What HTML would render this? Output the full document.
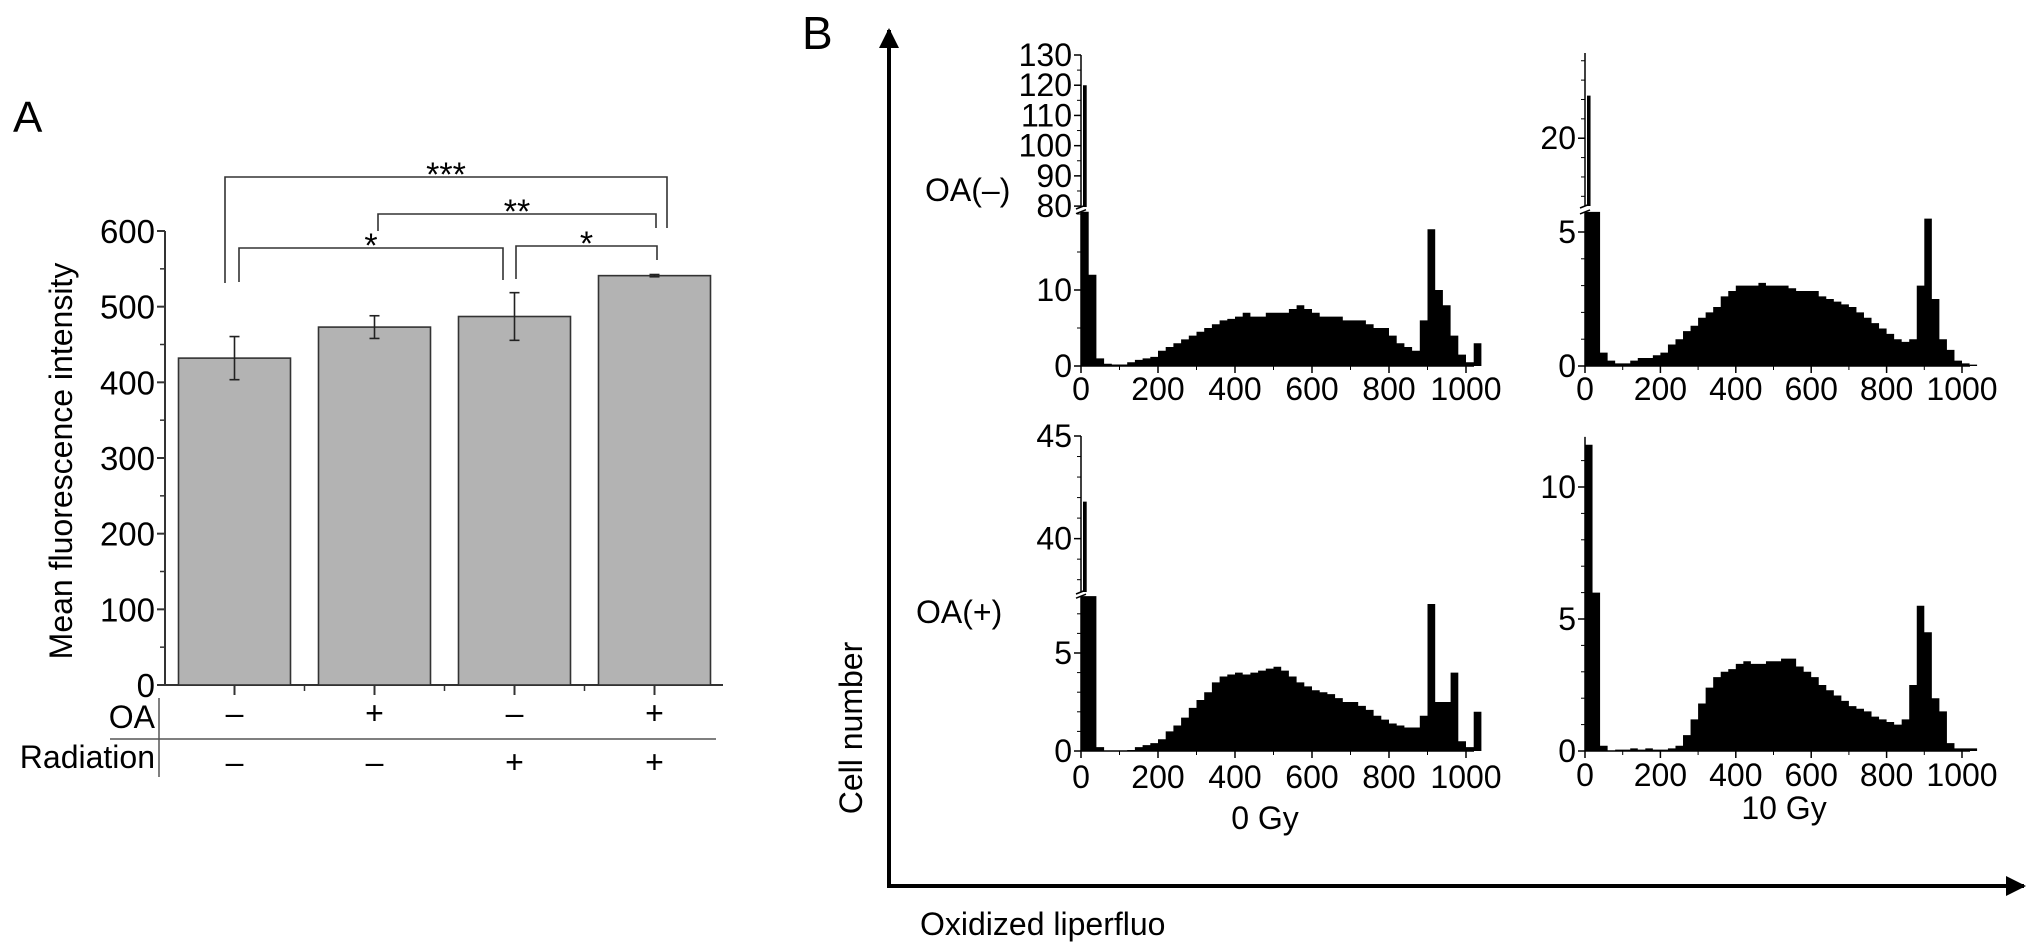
<!DOCTYPE html>
<html><head><meta charset="utf-8">
<style>
html,body{margin:0;padding:0;background:#fff;}
svg{display:block;font-family:"Liberation Sans",Arial,sans-serif;}
</style></head>
<body>
<svg id="fig" width="2032" height="948" viewBox="0 0 2032 948" xmlns="http://www.w3.org/2000/svg">
<defs>
<marker id="arr" viewBox="0 0 10 10" refX="9" refY="5" markerWidth="5" markerHeight="5" orient="auto"><path d="M0,0 L10,5 L0,10 z" fill="#000"/></marker>
</defs>
<g id="panelA">
<text x="13" y="132" font-size="44">A</text>
<text transform="translate(72,461) rotate(-90)" text-anchor="middle" font-size="32">Mean fluorescence intensity</text>
<g id="aAxis"></g>
<g id="aBars"></g>
<g id="aSig" stroke="#333" stroke-width="1.6" fill="none"></g>
<g id="aTable"></g>
</g>
<g id="panelB">
<text x="802" y="49" font-size="46">B</text>
<line x1="889" y1="886" x2="889" y2="30" stroke="#000" stroke-width="4" marker-end="url(#arr)"/>
<line x1="887" y1="886" x2="2024" y2="886" stroke="#000" stroke-width="4" marker-end="url(#arr)"/>
<text transform="translate(862,728) rotate(-90)" text-anchor="middle" font-size="32">Cell number</text>
<text x="920" y="935" font-size="32">Oxidized liperfluo</text>
<text x="925" y="201" font-size="32">OA(–)</text>
<text x="916" y="623" font-size="32">OA(+)</text>
<text x="1265" y="829" text-anchor="middle" font-size="32">0 Gy</text>
<text x="1784" y="819" text-anchor="middle" font-size="32">10 Gy</text>
<g id="hists"></g>
</g>
</svg>
<script>
const NS="http://www.w3.org/2000/svg";
// ---- Panel A data ----
const groups=["g1","g2","g3","g4"];
const oaSigns=["–","+","–","+"];
const radSigns=["–","–","+","+"];
const meanValues=[432,473,487,541];
const errValues=[28.5,15,31.5,1.5];
const yTicksA=[0,100,200,300,400,500,600];
// ---- Panel B data (20-unit bins, 0..1020) ----
const binStarts=[0,20,40,60,80,100,120,140,160,180,200,220,240,260,280,300,320,340,360,380,400,420,440,460,480,500,520,540,560,580,600,620,640,660,680,700,720,740,760,780,800,820,840,860,880,900,920,940,960,980,1000,1020];
const histOAneg0=[120,12,1,0.3,0.2,0.2,0.5,0.8,1,1.2,2,2.5,3,3.5,4,4.5,5,5.5,6,6.2,6.5,7,6.5,6.5,7,7,7,7.5,8,7.5,7,6.5,6.5,6.5,6,6,6,5.5,5,5,4,3,2.5,2,6,18,10,8,4,1.5,0.5,3];
const histOAneg10=[22.2,6,0.5,0.2,0.1,0.1,0.2,0.3,0.3,0.4,0.5,0.8,1,1.3,1.5,1.8,2,2.2,2.6,2.8,3,3,3,3.1,3,3,3,2.9,2.8,2.8,2.8,2.6,2.5,2.4,2.3,2.2,2,1.8,1.6,1.4,1.2,1,0.9,1,3,5.5,2.5,1,0.6,0.2,0.1,0.05];
const histOApos0=[41.8,8,0.2,0,0,0,0.05,0.2,0.3,0.4,0.6,1,1.3,1.7,2.2,2.6,3,3.5,3.8,3.9,4,3.9,4,4.1,4.2,4.3,4.1,3.8,3.5,3.3,3.1,3,2.9,2.7,2.5,2.5,2.3,2.1,1.8,1.6,1.4,1.3,1.2,1.2,1.8,7.5,2.5,2.5,4,0.5,0.2,2];
const histOApos10=[11.6,6,0.2,0,0.05,0.05,0.1,0.05,0.1,0.05,0.05,0.1,0.2,0.6,1.2,1.8,2.4,2.8,3,3.1,3.3,3.4,3.3,3.3,3.4,3.4,3.5,3.5,3.2,3,2.8,2.5,2.3,2.1,1.9,1.7,1.6,1.5,1.3,1.2,1.1,1,1.2,2.5,5.5,4.5,2,1.5,0.3,0.1,0.1,0.1];
const xTicksB=[0,200,400,600,800,1000];

function el(tag,attrs,parent){const e=document.createElementNS(NS,tag);for(const k in attrs)e.setAttribute(k,attrs[k]);parent.appendChild(e);return e;}

// ---- Panel A ----
const A={x0:165,x1:723,y0:685,yTop:231,vmax:600};
const yA=v=>A.y0-(v/A.vmax)*(A.y0-A.yTop);
const step=140, bw=112, firstC=234.5;
const xA=i=>firstC+i*step;
const ax=document.getElementById('aAxis');
let l=el('line',{x1:A.x0,y1:A.yTop,x2:A.x0,y2:A.y0,stroke:'#333','stroke-width':2},ax);


l=el('line',{x1:A.x0,y1:A.y0,x2:A.x1,y2:A.y0,stroke:'#333','stroke-width':2},ax);


yTicksA.forEach(v=>{
  el('line',{x1:A.x0-8,y1:yA(v),x2:A.x0,y2:yA(v),stroke:'#333','stroke-width':2},ax);
  if(v<600) el('line',{x1:A.x0-5,y1:yA(v+50),x2:A.x0,y2:yA(v+50),stroke:'#333','stroke-width':1.5},ax);
  const t=el('text',{x:A.x0-10,y:yA(v)+12,'text-anchor':'end','font-size':33},ax);
  t.textContent=v;
  
  
});
groups.forEach((g,i)=>{
  el('line',{x1:xA(i),y1:A.y0,x2:xA(i),y2:A.y0+10,stroke:'#333','stroke-width':2},ax);
  if(i<3) el('line',{x1:xA(i)+step/2,y1:A.y0,x2:xA(i)+step/2,y2:A.y0+6,stroke:'#333','stroke-width':1.5},ax);
});
const bars=document.getElementById('aBars');
meanValues.forEach((v,i)=>{
  const r=el('rect',{x:xA(i)-bw/2,y:yA(v),width:bw,height:A.y0-yA(v),fill:'#b3b3b3',stroke:'#333','stroke-width':1.6},bars);
  
  
  const e=errValues[i];
  const eg=el('g',{stroke:'#222','stroke-width':1.6},bars);
  
  
  el('line',{x1:xA(i),y1:yA(v+e),x2:xA(i),y2:yA(v-e)},eg);
  el('line',{x1:xA(i)-5,y1:yA(v+e),x2:xA(i)+5,y2:yA(v+e)},eg);
  el('line',{x1:xA(i)-5,y1:yA(v-e),x2:xA(i)+5,y2:yA(v-e)},eg);
});
// significance brackets
const sig=document.getElementById('aSig');
const brackets=[
  {xl:225,xr:667,y:177,yl:283,yr:228,lab:"***"},
  {xl:378,xr:656,y:214,yl:231,yr:228,lab:"**"},
  {xl:239,xr:503,y:248,yl:282,yr:280,lab:"*"},
  {xl:516,xr:657,y:246,yl:279,yr:260,lab:"*"}
];
brackets.forEach((b,i)=>{
  const p=el('path',{d:`M${b.xl},${b.yl} V${b.y} H${b.xr} V${b.yr}`},sig);
  
  
  const t=el('text',{x:(b.xl+b.xr)/2,y:b.y+9,'text-anchor':'middle','font-size':34,fill:'#000',stroke:'none'},sig);
  t.textContent=b.lab;
  
  
});
// table
const tb=document.getElementById('aTable');
el('line',{x1:159,y1:698,x2:159,y2:777,stroke:'#555','stroke-width':1.5},tb);
el('line',{x1:110,y1:739,x2:716,y2:739,stroke:'#555','stroke-width':1.5},tb);
let t=el('text',{x:155,y:728,'text-anchor':'end','font-size':32},tb);t.textContent='OA';


t=el('text',{x:155,y:768,'text-anchor':'end','font-size':32},tb);t.textContent='Radiation';


groups.forEach((g,i)=>{
  let s=el('text',{x:xA(i),y:724,'text-anchor':'middle','font-size':32},tb);s.textContent=oaSigns[i];
  
  
  s=el('text',{x:xA(i),y:773,'text-anchor':'middle','font-size':32},tb);s.textContent=radSigns[i];
  
  
});

// ---- Panel B histograms ----
const panels=[
 {name:'hist-oa-neg-0gy',data:histOAneg0,x0:1081,x1:1466,y0:366,s:7.6,lowMax:20.3,lowTicks:[0,10],lowMinor:5,
  up:{vmin:79.7,vmax:130,ybot:207,ytop:55,ticks:[80,90,100,110,120,130],minor:5},labY:400},
 {name:'hist-oa-neg-10gy',data:histOAneg10,x0:1585,x1:1962,y0:366,s:26.8,lowMax:5.75,lowTicks:[0,5],lowMinor:1,
  up:{vmin:16.5,vmax:24.4,ybot:206,ytop:53,ticks:[20],minor:1},labY:400},
 {name:'hist-oa-pos-0gy',data:histOApos0,x0:1081,x1:1466,y0:751,s:19.6,lowMax:7.9,lowTicks:[0,5],lowMinor:1,
  up:{vmin:37.4,vmax:45,ybot:592,ytop:436,ticks:[40,45],minor:1},labY:788},
 {name:'hist-oa-pos-10gy',data:histOApos10,x0:1585,x1:1962,y0:751,s:26.4,lowMax:11.9,lowTicks:[0,5,10],lowMinor:1,up:null,labY:786}
];
const hg=document.getElementById('hists');
panels.forEach(P=>{
  const g=el('g',{},hg);
  
  
  const xs=v=>P.x0+(v/1000)*(P.x1-P.x0);
  const yl=v=>P.y0-Math.min(v,P.lowMax)*P.s;
  const lowTop=yl(P.lowMax);
  // lower section fill
  let d=`M${xs(0)},${P.y0}`;
  P.data.forEach((v,i)=>{d+=` L${xs(binStarts[i])},${yl(v)} L${xs(binStarts[i]+20)},${yl(v)}`;});
  d+=` L${xs(binStarts[binStarts.length-1]+20)},${P.y0} Z`;
  const ar=el('path',{d:d,fill:'#000'},g);
  
  
  // axes
  const ystop=P.up?P.up.ytop:lowTop;
  el('line',{x1:P.x0,y1:P.y0,x2:P.x1+8,y2:P.y0,stroke:'#000','stroke-width':1.5},g);
  el('line',{x1:P.x0,y1:P.y0,x2:P.x0,y2:P.up?lowTop:ystop,stroke:'#000','stroke-width':1.5},g);
  xTicksB.forEach(v=>{
    el('line',{x1:xs(v),y1:P.y0,x2:xs(v),y2:P.y0+7,stroke:'#000','stroke-width':1.5},g);
    if(v<1000) el('line',{x1:xs(v+100),y1:P.y0,x2:xs(v+100),y2:P.y0+4,stroke:'#000','stroke-width':1},g);
    const tt=el('text',{x:xs(v),y:P.labY,'text-anchor':'middle','font-size':32},g);
    tt.textContent=v;
    
    
  });
  for(let v=0;v<=P.lowMax;v+=P.lowMinor){el('line',{x1:P.x0-4,y1:yl(v),x2:P.x0,y2:yl(v),stroke:'#000','stroke-width':1},g);}
  P.lowTicks.forEach(v=>{
    el('line',{x1:P.x0-7,y1:yl(v),x2:P.x0,y2:yl(v),stroke:'#000','stroke-width':1.5},g);
    const tt=el('text',{x:P.x0-9,y:yl(v)+11,'text-anchor':'end','font-size':32},g);
    tt.textContent=v;
    
    
  });
  if(P.up){
    const U=P.up;
    const yu=v=>U.ybot-(Math.min(Math.max(v,U.vmin),U.vmax)-U.vmin)*(U.ybot-U.ytop)/(U.vmax-U.vmin);
    let du='';
    P.data.forEach((v,i)=>{ if(v>U.vmin){du+=`M${xs(binStarts[i])+2},${U.ybot} V${yu(v)} H${xs(binStarts[i]+20)-2} V${U.ybot} Z `;}});
    if(du){const up=el('path',{d:du,fill:'#000'},g);
      
      }
    el('line',{x1:P.x0,y1:U.ybot,x2:P.x0,y2:U.ytop,stroke:'#000','stroke-width':1.5},g);
    for(let v=Math.ceil(U.vmin/U.minor)*U.minor;v<=U.vmax;v+=U.minor){el('line',{x1:P.x0-4,y1:yu(v),x2:P.x0,y2:yu(v),stroke:'#000','stroke-width':1},g);}
    U.ticks.forEach(v=>{
      el('line',{x1:P.x0-7,y1:yu(v),x2:P.x0,y2:yu(v),stroke:'#000','stroke-width':1.5},g);
      const tt=el('text',{x:P.x0-9,y:yu(v)+11,'text-anchor':'end','font-size':32},g);
      tt.textContent=v;
      
      
    });
    // break marks
    el('line',{x1:P.x0-5,y1:U.ybot+2,x2:P.x0+5,y2:U.ybot-2,stroke:'#000','stroke-width':1.5},g);
    el('line',{x1:P.x0-5,y1:lowTop+2,x2:P.x0+5,y2:lowTop-2,stroke:'#000','stroke-width':1.5},g);
  }
});
</script>
</body></html>
